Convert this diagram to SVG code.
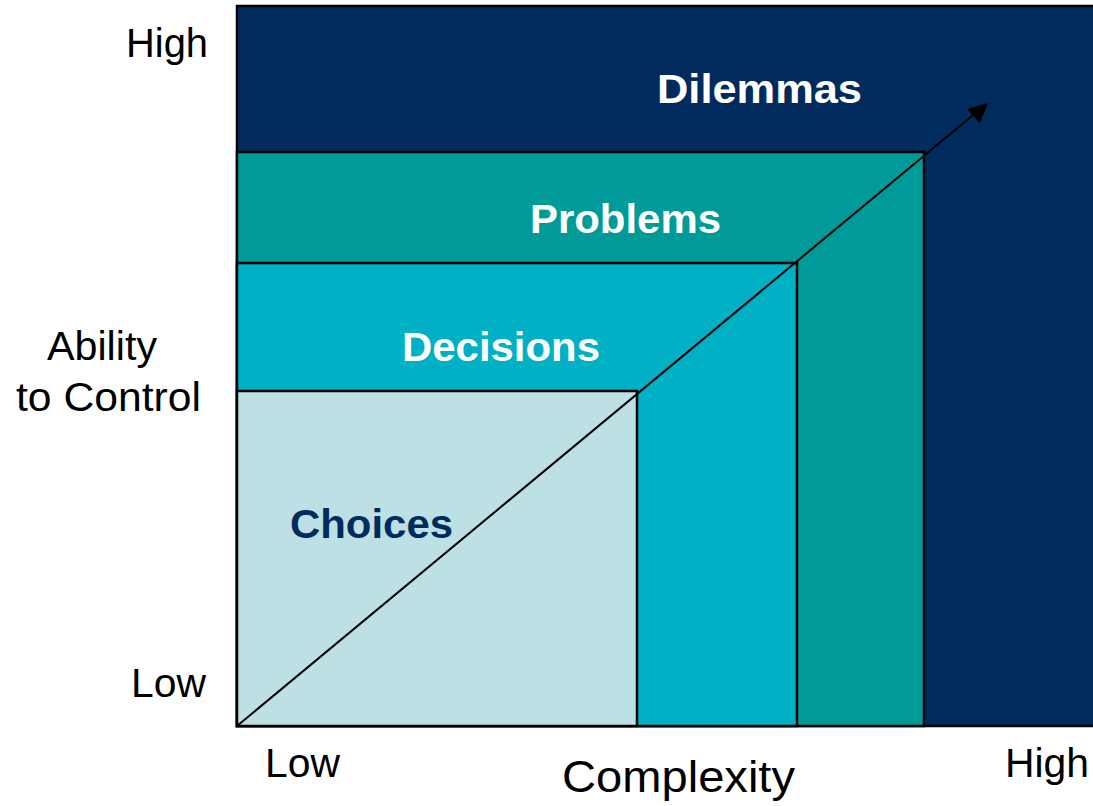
<svg xmlns="http://www.w3.org/2000/svg" width="1093" height="806" viewBox="0 0 1093 806">
<defs>
<style>
.box{stroke:#000;stroke-width:2.5}
.axis{font-family:"Liberation Sans",Arial,sans-serif;font-size:40px;fill:#000}
.lbl{font-family:"Liberation Sans",Arial,sans-serif;font-size:40px;font-weight:bold}
</style>
</defs>
<rect width="1093" height="806" fill="#fff"/>
<g id="dilemmas">
<rect class="box" x="237" y="6" width="900" height="720" fill="#002B5C"/>
<text class="lbl" x="657" y="103" fill="#fff" textLength="205" lengthAdjust="spacingAndGlyphs">Dilemmas</text>
</g>
<g id="problems">
<rect class="box" x="237" y="152" width="687" height="574" fill="#009B98"/>
<text class="lbl" x="530" y="233" fill="#fff" textLength="191" lengthAdjust="spacingAndGlyphs">Problems</text>
</g>
<g id="decisions">
<rect class="box" x="237" y="263" width="560" height="463" fill="#00B0C4"/>
<text class="lbl" x="402" y="361" fill="#fff" textLength="198" lengthAdjust="spacingAndGlyphs">Decisions</text>
</g>
<g id="choices">
<rect class="box" x="237" y="391" width="400" height="335" fill="#BCE0E4"/>
<text class="lbl" x="290" y="538" fill="#002B5C" textLength="163" lengthAdjust="spacingAndGlyphs">Choices</text>
</g>
<g id="connectors">
<line x1="237" y1="726" x2="978" y2="111" stroke="#000" stroke-width="2"/>
<path d="M988,103 L967,109 L980,123 z" fill="#000"/>
</g>
<g id="axis-labels">
<text class="axis" x="126" y="57" textLength="82" lengthAdjust="spacingAndGlyphs">High</text>
<text class="axis" x="47" y="360" textLength="110" lengthAdjust="spacingAndGlyphs">Ability</text>
<text class="axis" x="16" y="411" textLength="185" lengthAdjust="spacingAndGlyphs">to Control</text>
<text class="axis" x="131" y="697" textLength="75" lengthAdjust="spacingAndGlyphs">Low</text>
<text class="axis" x="265" y="777" textLength="75" lengthAdjust="spacingAndGlyphs">Low</text>
<text class="axis" x="562" y="792" textLength="233" lengthAdjust="spacingAndGlyphs" style="font-size:44px">Complexity</text>
<text class="axis" x="1005" y="777" textLength="84" lengthAdjust="spacingAndGlyphs">High</text>
</g>
</svg>
